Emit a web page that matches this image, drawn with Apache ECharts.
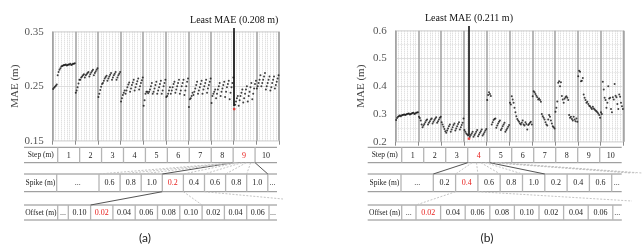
<!DOCTYPE html>
<html>
<head>
<meta charset="UTF-8">
<title>mae</title>
<script src="https://cdn.jsdelivr.net/npm/echarts@6/dist/echarts.min.js"></script>
<style>
	html, body { margin:0; padding:0; background:#fff; }
	#main { width:643px; height:250px; }
</style>
</head>
<body>
	<div id="main"></div>

	<script type="text/javascript">
		// table texts
		var steps = ['1','2','3','4','5','6','7','8','9','10'];
		var spikesA = ['...','0.6','0.8','1.0','0.2','0.4','0.6','0.8','1.0','...'];
		var offsetsA = ['...','0.10','0.02','0.04','0.06','0.08','0.10','0.02','0.04','0.06','...'];
		var spikesB = ['...','0.2','0.4','0.6','0.8','1.0','0.2','0.4','0.6','...'];
		var offsetsB = ['...','0.02','0.04','0.06','0.08','0.10','0.02','0.04','0.06','...'];

		// MAE per step: 5 spikes x 5 offsets
		var maeA = [
			[0.245,0.247,0.249,0.251,0.253, 0.270,0.276,0.280,0.283,0.286, 0.287,0.288,0.289,0.289,0.290, 0.288,0.289,0.290,0.290,0.291, 0.289,0.290,0.291,0.291,0.292],
			[0.238,0.242,0.248,0.255,0.262, 0.262,0.266,0.268,0.270,0.272, 0.266,0.270,0.272,0.274,0.276, 0.268,0.272,0.275,0.278,0.280, 0.270,0.274,0.277,0.280,0.283],
			[0.230,0.236,0.243,0.249,0.254, 0.256,0.260,0.264,0.267,0.269, 0.260,0.264,0.268,0.271,0.274, 0.262,0.266,0.270,0.273,0.276, 0.262,0.266,0.270,0.273,0.276],
			[0.222,0.228,0.234,0.238,0.242, 0.236,0.242,0.248,0.253,0.257, 0.240,0.246,0.252,0.257,0.262, 0.242,0.248,0.254,0.259,0.264, 0.244,0.250,0.256,0.261,0.266],
			[0.214,0.224,0.236,0.240,0.240, 0.237,0.240,0.244,0.250,0.256, 0.236,0.240,0.246,0.252,0.258, 0.236,0.242,0.248,0.254,0.260, 0.236,0.242,0.250,0.256,0.262],
			[0.230,0.232,0.236,0.242,0.248, 0.236,0.242,0.248,0.254,0.258, 0.238,0.244,0.250,0.256,0.262, 0.236,0.242,0.250,0.256,0.262, 0.234,0.242,0.250,0.258,0.264],
			[0.212,0.226,0.228,0.232,0.238, 0.234,0.240,0.246,0.252,0.258, 0.236,0.242,0.248,0.254,0.260, 0.236,0.244,0.250,0.256,0.262, 0.238,0.246,0.252,0.258,0.264],
			[0.219,0.232,0.236,0.240,0.244, 0.228,0.236,0.244,0.250,0.256, 0.232,0.240,0.246,0.252,0.258, 0.230,0.240,0.248,0.254,0.260, 0.226,0.238,0.248,0.256,0.266],
			[0.208,0.216,0.222,0.228,0.232, 0.214,0.224,0.232,0.238,0.244, 0.220,0.228,0.236,0.244,0.250, 0.222,0.232,0.240,0.248,0.256, 0.226,0.236,0.246,0.254,0.260],
			[0.246,0.250,0.256,0.262,0.270, 0.250,0.256,0.262,0.268,0.274, 0.244,0.250,0.256,0.262,0.268, 0.242,0.248,0.256,0.262,0.268, 0.246,0.252,0.258,0.264,0.270]
		];
		var maeB = [
			[0.278,0.285,0.290,0.292,0.294, 0.292,0.294,0.296,0.297,0.298, 0.296,0.298,0.300,0.301,0.302, 0.298,0.300,0.302,0.303,0.304, 0.300,0.302,0.304,0.305,0.306],
			[0.290,0.285,0.276,0.262,0.252, 0.258,0.264,0.270,0.276,0.280, 0.262,0.268,0.274,0.280,0.284, 0.266,0.272,0.278,0.284,0.288, 0.268,0.274,0.280,0.286,0.290],
			[0.270,0.262,0.254,0.246,0.238, 0.232,0.240,0.248,0.256,0.262, 0.236,0.244,0.252,0.260,0.266, 0.240,0.248,0.256,0.264,0.270, 0.244,0.252,0.260,0.268,0.284],
			[0.242,0.236,0.230,0.226,0.222, 0.211,0.218,0.224,0.230,0.236, 0.218,0.224,0.230,0.236,0.242, 0.220,0.226,0.232,0.238,0.244, 0.222,0.228,0.234,0.240,0.246],
			[0.350,0.368,0.378,0.372,0.365, 0.262,0.270,0.278,0.282,0.284, 0.250,0.258,0.266,0.272,0.276, 0.242,0.248,0.256,0.262,0.268, 0.236,0.242,0.248,0.254,0.260],
			[0.340,0.334,0.364,0.352,0.340, 0.322,0.306,0.292,0.282,0.276, 0.272,0.266,0.262,0.268,0.276, 0.262,0.258,0.270,0.264,0.244, 0.260,0.264,0.268,0.272,0.262],
			[0.364,0.382,0.378,0.372,0.366, 0.360,0.352,0.356,0.350,0.344, 0.300,0.292,0.286,0.280,0.270, 0.262,0.258,0.280,0.296,0.290, 0.276,0.266,0.256,0.252,0.248],
			[0.308,0.322,0.345,0.412,0.418, 0.400,0.414,0.365,0.352,0.340, 0.355,0.360,0.364,0.358,0.350, 0.296,0.286,0.290,0.282,0.276, 0.290,0.280,0.274,0.284,0.272],
			[0.436,0.456,0.452,0.418,0.420, 0.430,0.370,0.358,0.350,0.340, 0.344,0.336,0.330,0.328,0.322, 0.318,0.326,0.320,0.316,0.312, 0.310,0.306,0.302,0.296,0.286],
			[0.306,0.300,0.416,0.388,0.358, 0.350,0.322,0.340,0.400,0.356, 0.358,0.318,0.306,0.360,0.352, 0.408,0.366,0.360,0.336,0.318, 0.370,0.362,0.340,0.328,0.318]
		];

		var serif = '"Liberation Serif", "Times New Roman", serif';
		var perStep = 25;

		window.onload = iniPage;

		function iniPage(){
			var myChart = echarts.init(document.getElementById('main'));
			var a = buildPoints(maeA);
			var b = buildPoints(maeB);

			var graphics = [];
			var W = 21.93;
			// (a) tables
			var stA = tableRow(24, [33.7].concat(rep(W, 10)), 147.3, 162.7, ['Step (m)'].concat(steps), 9, graphics);
			var spA = tableRow(24, [32.7, 42.3].concat(rep(21.1, 8), [9.2]), 174, 191.7, ['Spike (m)'].concat(spikesA), 5, graphics);
			var ofA = tableRow(24, [33.7, 10.6].concat(rep(22.3, 9), [8]), 205, 220, ['Offset (m)'].concat(offsetsA), 3, graphics);
			// (b) tables
			var stB = tableRow(367.7, [34].concat(rep(22, 10)), 147.3, 162.7, ['Step (m)'].concat(steps), 4, graphics);
			var spB = tableRow(367.7, [33.3, 32.3].concat(rep(22.3, 8), [10]), 174, 191.7, ['Spike (m)'].concat(spikesB), 3, graphics);
			var ofB = tableRow(367.7, [34, 14.3].concat(rep(24.6, 8), [9]), 205, 220, ['Offset (m)'].concat(offsetsB), 2, graphics);

			// (a) connectors
			seg(graphics, stA[9], 162.7, spA[5], 174, true);
			seg(graphics, stA[10], 162.7, spA[10], 174, true);
			for (var k = 2; k <= 4; k++) seg(graphics, stA[9] - 1 + k, 162.7, spA[k], 174, false);
			for (var k = 1; k <= 4; k++) seg(graphics, stA[9] + k * W / 5, 162.7, spA[5 + k], 174, false);
			seg(graphics, spA[5], 191.7, ofA[3], 205, true);
			seg(graphics, spA[6], 191.7, ofA[8], 205, false);
			seg(graphics, spA[7], 191.7, 283, 199, false);
			// (b) connectors
			seg(graphics, stB[4], 162.7, spB[2], 174, true);
			seg(graphics, stB[5], 162.7, spB[7], 174, true);
			for (var k = 1; k <= 4; k++) seg(graphics, stB[4] + k * 22 / 5, 162.7, spB[2 + k], 174, false);
			for (var k = 0; k < 3; k++) seg(graphics, stB[5] + 2 + k * 4, 162.7, 630 + k * 6, 173, false);
			seg(graphics, spB[3], 191.7, ofB[2], 205, false);
			seg(graphics, spB[4], 191.7, 632, 201, false);

			// captions
			graphics.push({type:'text', x:145, y:238, style:{text:'(a)', textAlign:'center', textVerticalAlign:'middle', font:'12px Lato, sans-serif', fill:'#222'}});
			graphics.push({type:'text', x:487, y:238, style:{text:'(b)', textAlign:'center', textVerticalAlign:'middle', font:'12px Lato, sans-serif', fill:'#222'}});

			var option = {
				animation: false,
				backgroundColor: '#fff',
				grid: [
					{left:52.7, top:31.7, width:226.3, height:109, show:true, borderColor:'#8c8c8c', borderWidth:1},
					{left:395.7, top:30.7, width:227.6, height:111, show:true, borderColor:'#8c8c8c', borderWidth:1}
				],
				xAxis: [xAxisOf(0), xAxisOf(1)],
				yAxis: [
					yAxisOf(0, 0.15, 0.35, 2, 1),
					yAxisOf(1, 0.2, 0.6, 1, 2)
				],
				series: [
					seriesOf(0, a),
					seriesOf(1, b)
				],
				graphic: graphics
			};

			myChart.setOption(option);

			// least MAE pointer lines, top end placed above the plot in pixels
			myChart.setOption({
				series: [
					{markLine: leastLine(myChart, 0, a, 28, '0.208')},
					{markLine: leastLine(myChart, 1, b, 26, '0.211')}
				]
			});
		}

		function rep(v, n){
			var r = [];
			for (var i = 0; i < n; i++) r.push(v);
			return r;
		}

		function buildPoints(mae){
			var pts = [];
			var best = 0;
			for (var s = 0; s < mae.length; s++){
				for (var j = 0; j < mae[s].length; j++){
					pts.push([s * perStep + j + 0.5, mae[s][j]]);
				}
			}
			for (var i = 1; i < pts.length; i++){
				if (pts[i][1] < pts[best][1]) best = i;
			}
			return {pts: pts, best: best};
		}

		function xAxisOf(idx){
			return {
				gridIndex: idx, type:'value', min:0, max:250, interval:25,
				axisLine:{show:false},
				axisTick:{show:true, length:4, lineStyle:{color:'#8c8c8c'}},
				axisLabel:{show:false},
				splitLine:{show:true, lineStyle:{color:'#a6a6a6', width:1.6}},
				minorTick:{show:false, splitNumber:8},
				minorSplitLine:{show:true, lineStyle:{color:'#d4d4d4', type:'dotted', width:1}}
			};
		}

		function yAxisOf(idx, min, max, dec, minor){
			return {
				gridIndex: idx, type:'value', min:min, max:max, interval:0.1,
				name:'MAE (m)', nameLocation:'middle', nameGap: 29,
				nameTextStyle:{fontFamily:serif, fontSize:11, color:'#444'},
				axisLine:{show:false}, axisTick:{show:false},
				axisLabel:{fontFamily:serif, fontSize:11, color:'#555', margin:9,
					formatter:function(v){ return v.toFixed(dec); }},
				splitLine:{show:true, lineStyle:{color:'#e0e0e0', width:1}},
				minorTick:{show:false, splitNumber:minor},
				minorSplitLine:{show:minor > 1, lineStyle:{color:'#e2e2e2', type:'dotted'}}
			};
		}

		function seriesOf(idx, d){
			var data = d.pts.map(function(p, i){
				if (i === d.best) return {value:p, itemStyle:{color:'#e8221f'}, symbolSize:2.8};
				return p;
			});
			return {
				type:'scatter', xAxisIndex:idx, yAxisIndex:idx,
				symbol:'circle', symbolSize:2,
				itemStyle:{color:'#111'},
				data:data
			};
		}

		function leastLine(chart, idx, d, topPx, txt){
			var bp = d.pts[d.best];
			var px = chart.convertToPixel({gridIndex: idx}, bp);
			return {
				silent:true, symbol:['none','none'],
				lineStyle:{color:'#111', width:1.6, type:'solid'},
				label:{show:true, position:'end', distance:3, formatter:'Least MAE (' + txt + ' m)',
					fontFamily:serif, fontSize:10, color:'#111'},
				data:[[{x:px[0], y:px[1] - 3}, {x:px[0], y:topPx}]]
			};
		}

		function tableRow(x0, widths, top, bottom, texts, red, els){
			var edges = [x0];
			for (var i = 0; i < widths.length; i++) edges.push(edges[i] + widths[i]);
			var x1 = edges[edges.length - 1];
			els.push({type:'line', shape:{x1:x0, y1:top, x2:x1, y2:top}, style:{stroke:'#8a8a8a', lineWidth:1}});
			els.push({type:'line', shape:{x1:x0, y1:bottom, x2:x1, y2:bottom}, style:{stroke:'#8a8a8a', lineWidth:1}});
			for (var i = 1; i < edges.length - 1; i++){
				els.push({type:'line', shape:{x1:edges[i], y1:top, x2:edges[i], y2:bottom}, style:{stroke:'#b5b5b5', lineWidth:1.3}});
			}
			for (var i = 0; i < texts.length; i++){
				els.push({type:'text', x:(edges[i] + edges[i + 1]) / 2, y:(top + bottom) / 2 + 0.5,
					style:{text:texts[i], textAlign:'center', textVerticalAlign:'middle',
						font:(i === 0 ? '7.5px ' : '8px ') + serif, fill:(i === red ? '#e8221f' : '#222')}});
			}
			return edges;
		}

		function seg(els, x1, y1, x2, y2, solid){
			els.push({type:'line', shape:{x1:x1, y1:y1, x2:x2, y2:y2},
				style:{stroke: solid ? '#555' : '#bdbdbd', lineWidth: solid ? 1 : 0.9, lineDash: solid ? null : [2, 1.5]}});
		}
	</script>
</body>
</html>
